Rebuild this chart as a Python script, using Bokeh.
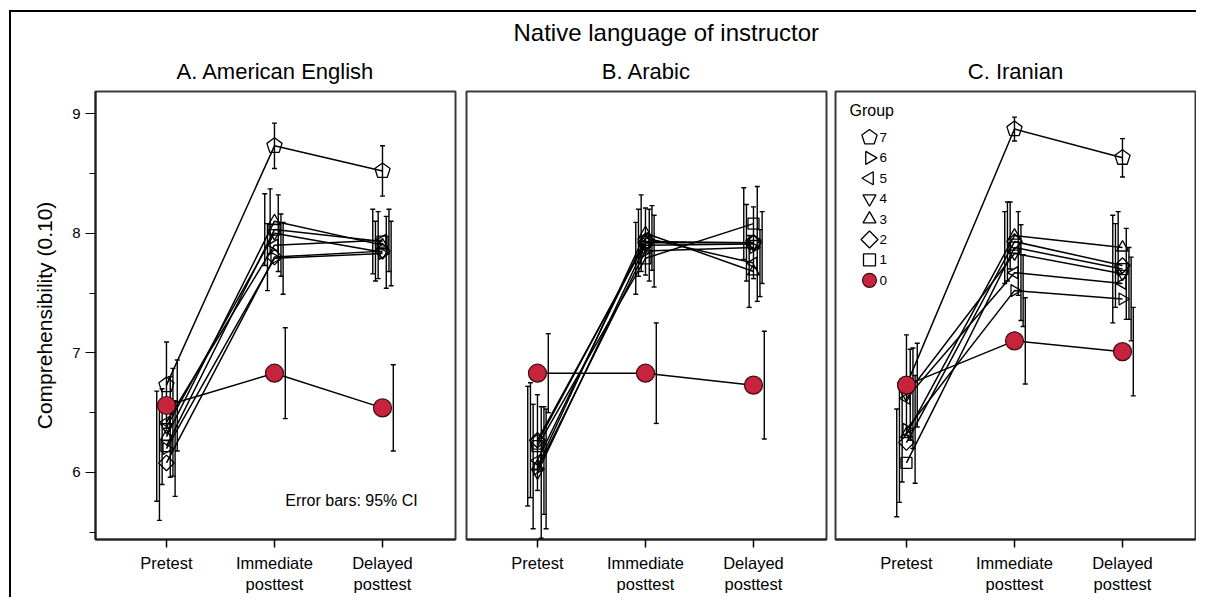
import math
from bokeh.plotting import figure
from bokeh.models import (ColumnDataSource, Whisker, TeeHead, FixedTicker, Range1d,
                          Label, Title)
from bokeh.core.properties import value
from bokeh.layouts import row
from bokeh.embed import file_html
from bokeh.resources import INLINE

FONT = "Liberation Sans"
RED = "#c8233c"

SUPTITLE = "Native language of instructor"
PANELS = ["A. American English", "B. Arabic", "C. Iranian"]
TIMES = ["Pretest", "Immediate\nposttest", "Delayed\nposttest"]
GROUPS = ["0", "1", "2", "3", "4", "5", "6", "7"]
LEGEND_TITLE = "Group"
LEGEND_ORDER = [7, 6, 5, 4, 3, 2, 1, 0]
Y_TICKS = [6, 7, 8, 9]
Y_MINOR = [5.5, 6.5, 7.5, 8.5]
Y_LABEL = "Comprehensibility (0.10)"
NOTE = "Error bars: 95% CI"

# means per group (rows: group 0..7; cols: Pretest, Immediate, Delayed)
ENG_MEAN = [
    [6.56, 6.83, 6.54],
    [6.22, 8.03, 7.93],
    [6.08, 7.80, 7.85],
    [6.30, 8.10, 7.90],
    [6.38, 8.00, 7.84],
    [6.42, 7.90, 7.94],
    [6.20, 7.79, 7.83],
    [6.73, 8.73, 8.52],
]
ENG_CI = [
    [0.38, 0.38, 0.36],
    [0.46, 0.30, 0.27],
    [0.48, 0.28, 0.25],
    [0.40, 0.27, 0.28],
    [0.42, 0.32, 0.30],
    [0.45, 0.26, 0.26],
    [0.40, 0.30, 0.27],
    [0.36, 0.19, 0.21],
]
ARA_MEAN = [
    [6.83, 6.83, 6.73],
    [6.22, 7.79, 8.08],
    [6.27, 7.92, 7.92],
    [6.05, 8.00, 7.68],
    [6.00, 7.90, 7.91],
    [6.10, 7.96, 7.75],
    [6.03, 7.85, 7.88],
    [6.25, 7.93, 7.92],
]
ARA_CI = [
    [0.33, 0.42, 0.45],
    [0.50, 0.30, 0.30],
    [0.48, 0.28, 0.32],
    [0.52, 0.32, 0.30],
    [0.55, 0.30, 0.48],
    [0.45, 0.27, 0.28],
    [0.50, 0.30, 0.30],
    [0.40, 0.28, 0.30],
]
IRA_MEAN = [
    [6.73, 7.10, 7.01],
    [6.08, 7.88, 7.70],
    [6.25, 7.93, 7.73],
    [6.32, 7.98, 7.88],
    [6.65, 7.83, 7.66],
    [6.62, 7.67, 7.58],
    [6.36, 7.52, 7.45],
    [6.73, 8.87, 8.63],
]
IRA_CI = [
    [0.35, 0.36, 0.37],
    [0.45, 0.30, 0.45],
    [0.50, 0.33, 0.35],
    [0.40, 0.28, 0.30],
    [0.38, 0.35, 0.38],
    [0.42, 0.40, 0.30],
    [0.45, 0.30, 0.35],
    [0.42, 0.10, 0.16],
]

# ---- styling ----
DODGE = [0.10, -0.09, -0.065, -0.04, 0.035, 0.06, 0.08, 0.0]
MARKER = [None, ("square", 0.0, 11), ("square", math.pi / 4, 11), ("triangle", 0.0, 12),
          ("inverted_triangle", 0.0, 12), ("triangle", math.pi / 2, 12),
          ("triangle", -math.pi / 2, 12), None]
FW, FH = 360, 448
XR = (-0.657, 2.676)
YR = (5.44, 9.184)
PXX = FW / (XR[1] - XR[0])
PXY = FH / (YR[1] - YR[0])
PENT_R = 8.0


def pentagon(cx, cy, r, sx, sy):
    angs = [math.pi / 2 + k * 2 * math.pi / 5 for k in range(5)]
    return ([cx + r * math.cos(a) / sx for a in angs],
            [cy + r * math.sin(a) / sy for a in angs])


def make_panel(title, means, cis, first, ml, mr):
    p = figure(frame_width=FW, frame_height=FH,
               x_range=Range1d(*XR), y_range=Range1d(*YR),
               output_backend="svg", toolbar_location=None,
               min_border_left=ml, min_border_right=mr,
               min_border_top=79, min_border_bottom=58,
               y_axis_location="left" if first else None,
               title=title)
    p.title.text_font = FONT
    p.title.text_font_size = "22px"
    p.title.text_font_style = "normal"
    p.title.align = "center"
    p.title.text_color = "black"
    p.title.standoff = 16
    p.xgrid.visible = False
    p.ygrid.visible = False
    p.outline_line_color = "#3a3a3a"
    p.outline_line_width = 2
    p.background_fill_color = "white"
    p.border_fill_color = "white"

    xa = p.xaxis[0]
    xa.ticker = FixedTicker(ticks=list(range(len(TIMES))))
    xa.major_label_overrides = {i: t for i, t in enumerate(TIMES)}
    xa.major_tick_out = 8
    xa.major_tick_in = 0
    xa.minor_tick_out = 0
    xa.minor_tick_in = 0
    xa.axis_line_width = 2
    xa.axis_line_color = "#222222"
    xa.major_tick_line_width = 1.5
    xa.major_label_standoff = 6
    xa.major_label_text_font = FONT
    xa.major_label_text_font_size = "16.5px"
    xa.major_label_text_color = "black"

    if first:
        ya = p.yaxis[0]
        ya.ticker = FixedTicker(ticks=Y_TICKS, minor_ticks=Y_MINOR)
        ya.major_tick_out = 10
        ya.major_tick_in = 0
        ya.minor_tick_out = 6
        ya.minor_tick_in = 0
        ya.axis_line_width = 2
        ya.axis_line_color = "#222222"
        ya.major_tick_line_width = 1.2
        ya.minor_tick_line_width = 1.2
        ya.major_label_standoff = 5
        ya.major_label_text_font = FONT
        ya.major_label_text_font_size = "15px"
        ya.major_label_text_color = "black"
        ya.axis_label = Y_LABEL
        ya.axis_label_text_font = FONT
        ya.axis_label_text_font_size = "21px"
        ya.axis_label_text_font_style = "normal"
        ya.axis_label_text_color = "black"
        ya.axis_label_standoff = 13

    xs = list(range(len(TIMES)))
    sources = []
    for g in range(len(GROUPS)):
        src = ColumnDataSource(dict(
            x=xs,
            y=means[g],
            xe=[x + DODGE[g] for x in xs],
            lo=[m - c for m, c in zip(means[g], cis[g])],
            hi=[m + c for m, c in zip(means[g], cis[g])],
        ))
        sources.append(src)
        p.line("x", "y", source=src, line_color="black", line_width=1.5)
        w = Whisker(base="xe", lower="lo", upper="hi", source=src,
                    line_color="black", line_width=1.4,
                    upper_head=TeeHead(size=5, line_width=1.4, line_color="black"),
                    lower_head=TeeHead(size=5, line_width=1.4, line_color="black"))
        p.add_layout(w)

    for g in range(1, 7):
        m, ang, sz = MARKER[g]
        p.scatter("x", "y", source=sources[g], marker=m, angle=ang, size=sz,
                  fill_alpha=0, line_color="black", line_width=1.3)
    pxs, pys = [], []
    for x, y in zip(xs, means[7]):
        a, b = pentagon(x, y, PENT_R, PXX, PXY)
        pxs.append(a)
        pys.append(b)
    p.patches(pxs, pys, fill_alpha=0, line_color="black", line_width=1.3)
    p.scatter("x", "y", source=sources[0], marker="circle", size=18,
              fill_color=RED, line_color="#3a0a10", line_width=1.2)
    return p


def add_legend(p):
    p.extra_x_ranges = {"lx": Range1d(0, FW)}
    p.extra_y_ranges = {"ly": Range1d(0, FH)}
    mx, tx, top, step = 34, 44, 402, 20.4
    ys = [top - step * i for i in range(len(LEGEND_ORDER))]
    p.text(x=[14], y=[FH - 19], text=[LEGEND_TITLE], x_range_name="lx", y_range_name="ly",
           text_font=value(FONT), text_font_size=value("16px"), text_align="left",
           text_baseline="middle", text_color="black")
    p.text(x=[tx] * len(ys), y=ys, text=[GROUPS[g] for g in LEGEND_ORDER],
           x_range_name="lx", y_range_name="ly",
           text_font=value(FONT), text_font_size=value("13.5px"), text_align="left",
           text_baseline="middle", text_color="black")
    for i, g in enumerate(LEGEND_ORDER):
        if g == 0:
            p.scatter([mx], [ys[i]], marker="circle", size=14, fill_color=RED,
                      line_color="#3a0a10", line_width=1.2,
                      x_range_name="lx", y_range_name="ly")
        elif g == 7:
            a, b = pentagon(mx, ys[i], PENT_R, 1.0, 1.0)
            p.patch(a, b, fill_alpha=0, line_color="black", line_width=1.3,
                    x_range_name="lx", y_range_name="ly")
        else:
            m, ang, sz = MARKER[g]
            p.scatter([mx], [ys[i]], marker=m, angle=ang, size=sz + 1, fill_alpha=0,
                      line_color="black", line_width=1.3,
                      x_range_name="lx", y_range_name="ly")


pa = make_panel(PANELS[0], ENG_MEAN, ENG_CI, True, 84, 5)
pa.add_layout(Label(x=1.10, y=5.766, text=NOTE, text_font=FONT, text_font_size="16px",
                    text_align="left", text_baseline="middle", text_color="black"))

pb = make_panel(SUPTITLE, ARA_MEAN, ARA_CI, False, 6, 5)
pb.title.align = "left"
pb.title.offset = 47
pb.title.text_font_size = "24px"
pb.title.standoff = 5
pb.add_layout(Title(text=PANELS[1], align="center", text_font=FONT, text_font_size="22px",
                    text_font_style="normal", text_color="black", standoff=16), "above")

pc = make_panel(PANELS[2], IRA_MEAN, IRA_CI, False, 4, 1)
add_legend(pc)

layout = row(pa, pb, pc, margin=(10, 0, 0, 9),
             styles={"border-top": "2px solid black", "border-left": "2px solid black"})

open("out.html", "w").write(file_html(layout, INLINE))
